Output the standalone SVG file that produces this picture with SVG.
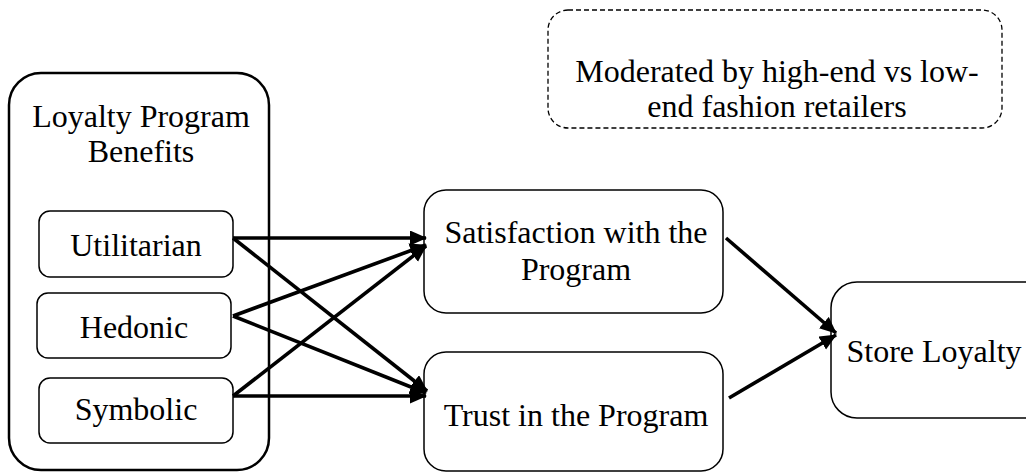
<svg xmlns="http://www.w3.org/2000/svg" width="1026" height="472" viewBox="0 0 1026 472">
  <style>
    .box { fill: #fff; stroke: #000; stroke-width: 1.5; }
    .outer { fill: #fff; stroke: #000; stroke-width: 2.5; }
    .dash { fill: none; stroke: #000; stroke-width: 1.3; stroke-dasharray: 5 3; }
    .arrow { stroke: #000; stroke-width: 3.6; fill: none; }
  </style>
  <defs>
    <marker id="ah" markerUnits="userSpaceOnUse" markerWidth="18" markerHeight="16" refX="16" refY="7.5" orient="auto">
      <path d="M0,0 L17,7.5 L0,15 Z" fill="#000"/>
    </marker>
  </defs>
  <rect width="1026" height="472" fill="#fff"/>

  <g font-family="Liberation Serif, Times New Roman, DejaVu Serif, serif" font-size="32" fill="#000" text-anchor="middle">
  <g id="moderator">
    <rect class="dash" x="548" y="10" width="454" height="118" rx="20"/>
    <text x="777" y="82">Moderated by high-end vs low-</text>
    <text x="777" y="117">end fashion retailers</text>
  </g>

  <g id="benefits">
    <rect class="outer" x="9" y="73" width="260" height="397" rx="32"/>
    <text x="141" y="127">Loyalty Program</text>
    <text x="141" y="162">Benefits</text>
  </g>

  <g id="utilitarian">
    <rect class="box" x="39" y="211" width="194" height="66" rx="11"/>
    <text x="136" y="256">Utilitarian</text>
  </g>
  <g id="hedonic">
    <rect class="box" x="37" y="293" width="194" height="65" rx="11"/>
    <text x="134" y="338">Hedonic</text>
  </g>
  <g id="symbolic">
    <rect class="box" x="39" y="378" width="194" height="65" rx="11"/>
    <text x="136" y="420">Symbolic</text>
  </g>

  <g id="satisfaction">
    <rect class="box" x="424" y="190" width="299" height="123" rx="22"/>
    <text x="576" y="243">Satisfaction with the</text>
    <text x="576" y="280">Program</text>
  </g>
  <g id="trust">
    <rect class="box" x="424" y="352" width="299" height="119" rx="22"/>
    <text x="576" y="426">Trust in the Program</text>
  </g>
  <g id="store-loyalty">
    <rect class="box" x="831" y="282" width="220" height="136" rx="26"/>
    <text x="934" y="362">Store Loyalty</text>
  </g>
  </g>

  <g id="connectors" class="arrow" marker-end="url(#ah)">
    <line x1="233" y1="238" x2="426" y2="238"/>
    <line x1="233" y1="238" x2="427" y2="391"/>
    <line x1="233" y1="316" x2="426" y2="245"/>
    <line x1="233" y1="316" x2="426" y2="393"/>
    <line x1="233" y1="396" x2="426" y2="246"/>
    <line x1="233" y1="396" x2="426" y2="396"/>
    <line x1="726" y1="238" x2="836" y2="333"/>
    <line x1="729" y1="398" x2="836" y2="335"/>
  </g>
</svg>
